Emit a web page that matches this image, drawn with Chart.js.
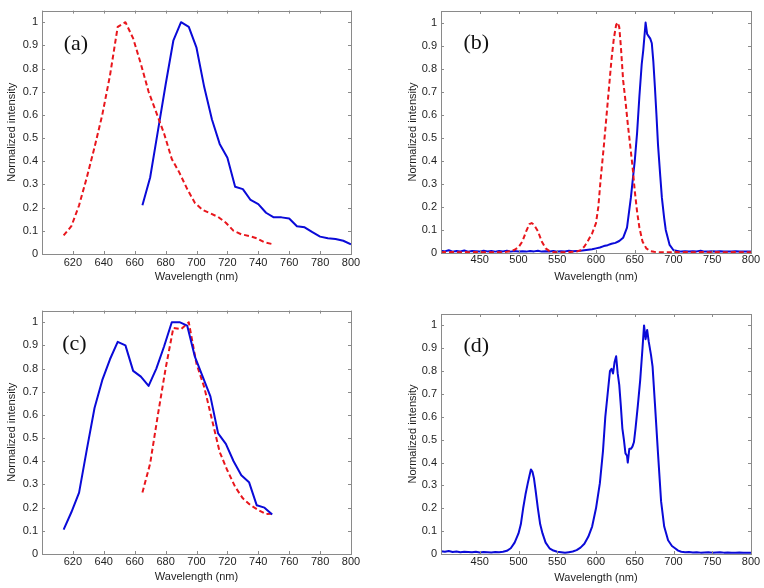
<!doctype html>
<html>
<head>
  <meta charset="utf-8" />
  <title>Normalized spectra</title>
  <style>
    body { margin: 0; background: #fff; }
    .wrap { position: relative; width: 764px; height: 588px; }
    canvas { position: absolute; }
  </style>
</head>
<body>
  <div class="wrap">
    <canvas id="pa" width="382" height="294" style="left:0;top:0"></canvas>
    <canvas id="pb" width="382" height="294" style="left:382px;top:0"></canvas>
    <canvas id="pc" width="382" height="288" style="left:0;top:300px"></canvas>
    <canvas id="pd" width="382" height="288" style="left:382px;top:300px"></canvas>
  </div>

  <script src="https://cdn.jsdelivr.net/npm/chart.js@4.4.1/dist/chart.umd.min.js"></script>
  <script>
    // ---- data ----
    // tick labels
    const shortTicks = [600, 620, 640, 660, 680, 700, 720, 740, 760, 780, 800];
    const wideTicks = [400, 450, 500, 550, 600, 650, 700, 750, 800];
    const yTicks = [0, 0.1, 0.2, 0.3, 0.4, 0.5, 0.6, 0.7, 0.8, 0.9, 1];

    // (a) red dashed / blue solid
    const aRedX = [614, 619, 624, 629, 634, 639, 644, 649, 654, 659, 664, 669, 674, 679,
                   684, 689, 694, 699, 704, 709, 714, 719, 724, 729, 734, 739, 744, 749];
    const aRedY = [0.08, 0.12, 0.21, 0.33, 0.46, 0.6, 0.77, 0.98, 1.0, 0.93, 0.82, 0.7, 0.61, 0.52,
                   0.41, 0.35, 0.28, 0.22, 0.19, 0.175, 0.16, 0.135, 0.10, 0.085, 0.078, 0.068, 0.05, 0.043];
    const aBlueX = [665, 670, 675, 680, 685, 690, 695, 700, 705, 710, 715, 720, 725, 730,
                    735, 740, 745, 750, 755, 760, 765, 770, 775, 780, 785, 790, 795, 800];
    const aBlueY = [0.21, 0.33, 0.53, 0.73, 0.92, 1.0, 0.98, 0.89, 0.72, 0.58, 0.475, 0.415, 0.29, 0.28,
                    0.233, 0.215, 0.178, 0.158, 0.158, 0.153, 0.12, 0.115, 0.094, 0.075, 0.068, 0.065, 0.057, 0.042];

    // (b)
    const bBlueX = [400, 405, 410, 415, 420, 425, 430, 435, 440, 445, 450, 455, 460, 465, 470, 475, 480, 485, 490, 495,
                    500, 505, 510, 515, 520, 525, 530, 535, 540, 545, 550, 555, 560, 565, 570, 575, 580, 585, 590, 595,
                    600, 605, 610, 615, 620, 625, 630, 635, 640, 645, 650, 653, 656, 659, 661, 663, 664, 666, 668, 670,
                    672, 674, 676, 678, 680, 683, 685, 688, 690, 695, 700, 705, 710, 715, 720, 725, 730, 735, 740, 745,
                    750, 755, 760, 765, 770, 775, 780, 785, 790, 795, 800];
    const bBlueY = [0.010, 0.007, 0.012, 0.006, 0.009, 0.007, 0.011, 0.006, 0.009, 0.008, 0.006, 0.010, 0.007, 0.009, 0.006, 0.009, 0.007, 0.010, 0.006, 0.009,
                    0.007, 0.008, 0.006, 0.009, 0.007, 0.010, 0.006, 0.008, 0.007, 0.009, 0.006, 0.008, 0.007, 0.010, 0.008, 0.009, 0.010, 0.012, 0.014, 0.016,
                    0.020, 0.024, 0.030, 0.034, 0.040, 0.044, 0.052, 0.066, 0.11, 0.24, 0.40, 0.52, 0.68, 0.82, 0.88, 0.96, 1.0, 0.95, 0.94, 0.93,
                    0.91, 0.83, 0.72, 0.60, 0.47, 0.33, 0.24, 0.15, 0.10, 0.035, 0.012, 0.009, 0.006, 0.008, 0.006, 0.008, 0.007, 0.010, 0.006, 0.007,
                    0.008, 0.006, 0.008, 0.006, 0.007, 0.006, 0.008, 0.006, 0.007, 0.006, 0.007];
    const bRedX = [400, 405, 410, 415, 420, 425, 430, 435, 440, 445, 450, 455, 460, 465, 470, 475, 480, 485, 490, 495,
                   500, 505, 510, 514, 517, 520, 525, 530, 535, 540, 545, 550, 555, 560, 565, 570, 575, 580, 585, 590,
                   595, 600, 603, 606, 610, 615, 620, 623, 626, 628, 630, 632, 635, 638, 641, 644, 647, 650, 653, 656,
                   660, 665, 670, 675, 680, 685, 690, 700, 710, 720, 730, 740, 750, 760, 770, 780, 790, 800];
    const bRedY = [0.003, 0.004, 0.003, 0.004, 0.003, 0.003, 0.004, 0.003, 0.003, 0.004, 0.003, 0.003, 0.004, 0.003, 0.004, 0.003, 0.004, 0.005, 0.008, 0.014,
                   0.025, 0.05, 0.095, 0.125, 0.13, 0.123, 0.095, 0.05, 0.02, 0.008, 0.004, 0.003, 0.003, 0.003, 0.004, 0.005, 0.006, 0.012, 0.028, 0.055,
                   0.085, 0.13, 0.2, 0.32, 0.46, 0.65, 0.84, 0.93, 0.99, 1.0, 0.98, 0.90, 0.75, 0.66, 0.56, 0.47, 0.38, 0.27, 0.18, 0.11,
                   0.05, 0.02, 0.008, 0.005, 0.004, 0.003, 0.003, 0.004, 0.003, 0.004, 0.003, 0.004, 0.003, 0.004, 0.003, 0.004, 0.003, 0.003];

    // (c)
    const cBlueX = [614, 619, 624, 629, 634, 639, 644, 649, 654, 659, 664, 669, 674, 679,
                    684, 689, 694, 699, 704, 709, 714, 719, 724, 729, 734, 739, 744, 749];
    const cBlueY = [0.105, 0.18, 0.265, 0.45, 0.63, 0.75, 0.84, 0.915, 0.90, 0.79, 0.765, 0.725, 0.80, 0.895,
                    1.0, 1.0, 0.985, 0.85, 0.765, 0.68, 0.52, 0.475, 0.40, 0.34, 0.31, 0.21, 0.20, 0.17];
    const cRedX = [665, 670, 675, 680, 685, 690, 695, 700, 705, 710, 715, 720, 725, 730, 735, 740, 745, 750];
    const cRedY = [0.265, 0.39, 0.6, 0.8, 0.975, 0.97, 1.0, 0.82, 0.72, 0.58, 0.44, 0.36, 0.29, 0.24, 0.21, 0.19, 0.172, 0.175];

    // (d)
    const dBlueX = [400, 405, 410, 415, 420, 425, 430, 435, 440, 445, 450, 455, 460, 465, 470, 475, 480, 485, 490, 495,
                    500, 503, 506, 509, 512, 514, 516, 518, 520, 522, 525, 528, 531, 535, 540, 545, 550, 555, 560, 565,
                    570, 575, 580, 585, 590, 595, 600, 605, 609, 612, 615, 618, 620, 622, 624, 626, 628, 630, 632, 634,
                    636, 638, 640, 641, 643, 645, 647, 649, 651, 654, 657, 660, 662, 664, 666, 668, 671, 673, 676, 680,
                    684, 688, 693, 698, 702, 706, 710, 715, 720, 725, 730, 735, 740, 745, 750, 755, 760, 765, 770, 775,
                    780, 785, 790, 795, 800];
    const dBlueY = [0.012, 0.010, 0.013, 0.009, 0.011, 0.008, 0.010, 0.009, 0.008, 0.010, 0.007, 0.009, 0.008, 0.007, 0.009, 0.008, 0.010, 0.014, 0.025, 0.05,
                    0.09, 0.13, 0.2, 0.26, 0.31, 0.34, 0.37, 0.36, 0.33, 0.28, 0.2, 0.13, 0.09, 0.05, 0.025, 0.015, 0.01, 0.008, 0.005, 0.008,
                    0.011, 0.017, 0.028, 0.045, 0.075, 0.12, 0.2, 0.31, 0.45, 0.6, 0.7, 0.8, 0.81, 0.79, 0.84, 0.865, 0.79, 0.74, 0.65, 0.55,
                    0.5, 0.44, 0.43, 0.4, 0.46, 0.46, 0.47, 0.49, 0.55, 0.65, 0.76, 0.9, 1.0, 0.94, 0.98, 0.93, 0.87, 0.82, 0.66, 0.44,
                    0.23, 0.12, 0.06, 0.035, 0.025, 0.015, 0.01, 0.008, 0.009, 0.007, 0.008, 0.006, 0.007, 0.008, 0.006, 0.007, 0.008, 0.006, 0.007, 0.006,
                    0.005, 0.007, 0.006, 0.005, 0.006];

    const BLUE = '#0a0ad8';
    const RED = '#e8161c';
    const FRAME = '#8a8a8a';
    const TXT = '#1e1e1e';
    const SANS = "'Liberation Sans', Arial, sans-serif";

    function pts(xs, ys) {
      return xs.map((x, i) => ({ x, y: ys[i] }));
    }

    // box + inward tick marks on all four sides, plus the (a)/(b)... tag
    const framePlugin = {
      id: 'frame',
      afterDatasetsDraw(chart, args, opts) {
        const { ctx, chartArea: a, scales: { x, y } } = chart;
        ctx.save();
        ctx.strokeStyle = FRAME;
        ctx.lineWidth = 1;
        ctx.beginPath();
        for (const t of x.ticks) {
          const px = Math.round(x.getPixelForValue(t.value)) + 0.5;
          ctx.moveTo(px, a.bottom); ctx.lineTo(px, a.bottom - 3);
          ctx.moveTo(px, a.top); ctx.lineTo(px, a.top + 3);
        }
        for (const t of y.ticks) {
          const py = Math.round(y.getPixelForValue(t.value)) + 0.5;
          ctx.moveTo(a.left, py); ctx.lineTo(a.left + 3, py);
          ctx.moveTo(a.right, py); ctx.lineTo(a.right - 3, py);
        }
        ctx.stroke();
        ctx.strokeRect(Math.round(a.left) + 0.5, Math.round(a.top) + 0.5,
          Math.round(a.right - a.left), Math.round(a.bottom - a.top));
        if (opts.tag) {
          ctx.fillStyle = '#111';
          ctx.font = "22px 'Liberation Serif', 'Times New Roman', serif";
          ctx.textAlign = 'center';
          ctx.textBaseline = 'middle';
          ctx.fillText(opts.tag, x.getPixelForValue(opts.tagX), y.getPixelForValue(opts.tagY));
        }
        ctx.restore();
      }
    };

    function makePanel(id, p) {
      const datasets = p.series.map(s => ({
        data: pts(s.x, s.y),
        borderColor: s.color,
        borderWidth: 2,
        borderDash: s.dash ? [5, 3] : [],
        borderJoinStyle: 'round',
        pointRadius: 0,
        tension: 0,
        fill: false
      }));
      return new Chart(document.getElementById(id), {
        type: 'line',
        data: { datasets },
        options: {
          responsive: false,
          animation: false,
          events: [],
          layout: { padding: p.pad },
          plugins: {
            legend: { display: false },
            tooltip: { enabled: false },
            frame: { tag: p.tag, tagX: p.tagX, tagY: p.tagY }
          },
          scales: {
            x: {
              type: 'linear',
              min: p.xTicks[0],
              max: p.xTicks[p.xTicks.length - 1],
              afterBuildTicks: s => { s.ticks = p.xTicks.map(v => ({ value: v })); },
              afterFit: s => { s.height = p.xH; },
              grid: { display: false, drawTicks: false },
              border: { display: false },
              ticks: {
                autoSkip: false, maxRotation: 0, padding: p.xTickPad, color: TXT,
                font: { family: SANS, size: 11 },
                callback: v => (p.hideFirst && v === p.xTicks[0]) ? '' : String(v)
              },
              title: {
                display: true, text: 'Wavelength (nm)', color: TXT,
                font: { family: SANS, size: 11 }, padding: { top: 0, bottom: p.xTitlePad }
              }
            },
            y: {
              min: 0,
              max: 1.05,
              afterBuildTicks: s => { s.ticks = yTicks.map(v => ({ value: v })); },
              afterFit: s => { s.width = p.yW; },
              grid: { display: false, drawTicks: false },
              border: { display: false },
              ticks: {
                padding: 4, color: TXT,
                font: { family: SANS, size: 11 },
                callback: v => (v === 0 || v === 1) ? String(v) : v.toFixed(1)
              },
              title: {
                display: true, text: 'Normalized intensity', color: TXT,
                font: { family: SANS, size: 11 }, padding: { top: p.yTitlePad, bottom: 0 }
              }
            }
          }
        },
        plugins: [framePlugin]
      });
    }

    makePanel('pa', {
      series: [
        { x: aRedX, y: aRedY, color: RED, dash: true },
        { x: aBlueX, y: aBlueY, color: BLUE }
      ],
      xTicks: shortTicks, hideFirst: true,
      pad: { left: 0, top: 10, right: 31, bottom: 0 },
      xH: 40, yW: 42, xTickPad: 2, xTitlePad: 10, yTitlePad: 5,
      tag: '(a)', tagX: 622, tagY: 0.905
    });

    makePanel('pb', {
      series: [
        { x: bRedX, y: bRedY, color: RED, dash: true },
        { x: bBlueX, y: bBlueY, color: BLUE }
      ],
      xTicks: wideTicks, hideFirst: true,
      pad: { left: 0, top: 11, right: 13, bottom: 0 },
      xH: 41, yW: 59, xTickPad: 0, xTitlePad: 10, yTitlePad: 24,
      tag: '(b)', tagX: 445.5, tagY: 0.912
    });

    makePanel('pc', {
      series: [
        { x: cBlueX, y: cBlueY, color: BLUE },
        { x: cRedX, y: cRedY, color: RED, dash: true }
      ],
      xTicks: shortTicks, hideFirst: true,
      pad: { left: 0, top: 10, right: 31, bottom: 0 },
      xH: 34, yW: 42, xTickPad: 1, xTitlePad: 4, yTitlePad: 5,
      tag: '(c)', tagX: 621, tagY: 0.905
    });

    makePanel('pd', {
      series: [
        { x: dBlueX, y: dBlueY, color: BLUE }
      ],
      xTicks: wideTicks, hideFirst: true,
      pad: { left: 0, top: 14, right: 13, bottom: 0 },
      xH: 34, yW: 59, xTickPad: 1, xTitlePad: 3, yTitlePad: 24,
      tag: '(d)', tagX: 445.5, tagY: 0.907
    });
  </script>
</body>
</html>
